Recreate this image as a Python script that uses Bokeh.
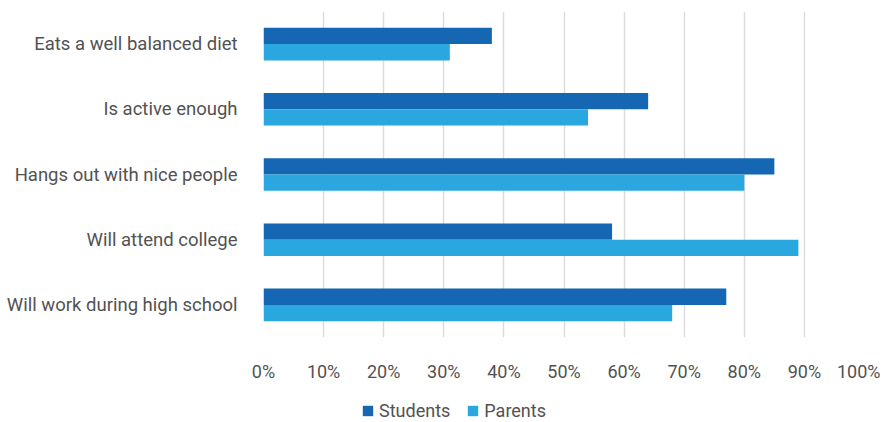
from bokeh.plotting import figure
from bokeh.layouts import column
from bokeh.models import (ColumnDataSource, FactorRange, Range1d, NumeralTickFormatter,
                          FixedTicker, Legend, LegendItem)
from bokeh.transform import dodge
from bokeh.embed import file_html
from bokeh.resources import INLINE

categories = ["Eats a well balanced diet", "Is active enough", "Hangs out with nice people",
              "Will attend college", "Will work during high school"]
students = [0.38, 0.64, 0.85, 0.58, 0.77]
parents = [0.31, 0.54, 0.80, 0.89, 0.68]
x_ticks = [i / 10 for i in range(11)]
series_names = ["Students", "Parents"]
series_fields = ["students", "parents"]
series_colors = ["#1567b4", "#2ba7e0"]

source = ColumnDataSource(dict(cat=categories, students=students, parents=parents))

FONT = "Roboto"
TEXT = "#525252"

p = figure(width=880, height=384, output_backend="svg", toolbar_location=None,
           y_range=FactorRange(factors=list(reversed(categories))), x_range=Range1d(0, 1.0),
           min_border_left=263, min_border_right=16, min_border_top=11, min_border_bottom=47)

p.hbar(y=dodge("cat", 0.125, range=p.y_range), right="students", left=0, height=0.25,
       source=source, color=series_colors[0], line_color=None)
p.hbar(y=dodge("cat", -0.125, range=p.y_range), right="parents", left=0, height=0.25,
       source=source, color=series_colors[1], line_color=None)

p.outline_line_color = None
p.ygrid.grid_line_color = None
p.xgrid.grid_line_color = "#dcdcdc"
p.xgrid.grid_line_width = 1.5
p.xgrid.ticker = FixedTicker(ticks=x_ticks)
p.xaxis.ticker = FixedTicker(ticks=x_ticks)
p.xaxis.formatter = NumeralTickFormatter(format="0%")

for ax in (p.xaxis, p.yaxis):
    ax.axis_line_color = None
    ax.major_tick_line_color = None
    ax.minor_tick_line_color = None
    ax.major_label_text_font = FONT
    ax.major_label_text_color = TEXT

p.yaxis.major_label_text_font_size = "18.5px"
p.xaxis.major_label_text_font_size = "18px"
p.yaxis.major_label_standoff = 20
p.xaxis.major_label_standoff = 17

# separate strip for the legend; its bars have zero height and lie outside the x range,
# so only the legend is visible there
lf = figure(width=880, height=38, output_backend="svg", toolbar_location=None,
            x_range=Range1d(-2, -1), y_range=FactorRange(factors=list(reversed(categories))),
            x_axis_type=None, y_axis_type=None,
            min_border_left=0, min_border_right=0, min_border_top=0, min_border_bottom=0)
lf.outline_line_color = None
lf.xgrid.visible = False
lf.ygrid.visible = False
items = []
for name, field, col in zip(series_names, series_fields, series_colors):
    r = lf.hbar(y="cat", right=field, left=0, height=0, source=source,
                color=col, line_color=None)
    items.append(LegendItem(label=name, renderers=[r]))

legend = Legend(items=items, orientation="horizontal", location=(98, 1),
                label_text_font=FONT, label_text_color=TEXT, label_text_font_size="18px",
                glyph_width=13, glyph_height=13, label_standoff=5, spacing=16,
                padding=0, margin=0, border_line_color=None, background_fill_alpha=0)
lf.add_layout(legend, "center")

layout = column(p, lf, spacing=0)
open("out.html", "w").write(file_html(layout, INLINE))
